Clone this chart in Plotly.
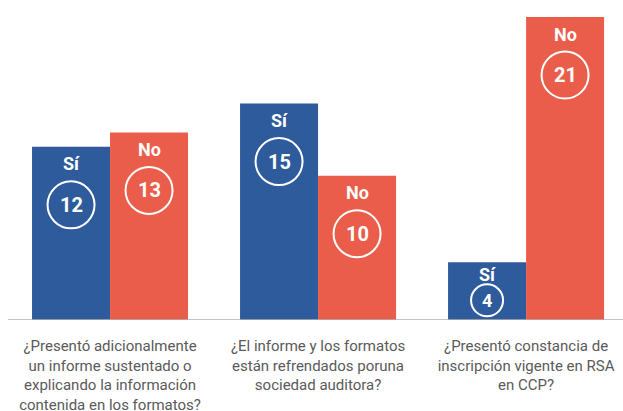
import plotly.graph_objects as go

categories = [
    "¿Presentó adicionalmente<br>un informe sustentado o<br>explicando la información<br>contenida en los formatos?",
    "¿El informe y los formatos<br>están refrendados poruna<br>sociedad auditora?",
    "¿Presentó constancia de<br>inscripción vigente en RSA<br>en CCP?",
]
si_values = [12, 15, 4]
no_values = [13, 10, 21]
series_names = ["Sí", "No"]

BLUE = "#2d5b9c"
RED = "#ea5d4b"
BAR_W = 0.375

fig = go.Figure()
x_idx = list(range(len(categories)))
for name, vals, color, off in [(series_names[0], si_values, BLUE, -BAR_W),
                               (series_names[1], no_values, RED, 0.0)]:
    fig.add_trace(go.Bar(
        x=x_idx, y=vals, width=BAR_W, offset=off,
        marker=dict(color=color, line=dict(width=0)),
        name=name, hoverinfo="skip", showlegend=False,
    ))

annotations = []
shapes = []
for name, vals, shift in [(series_names[0], si_values, -BAR_W / 2),
                          (series_names[1], no_values, BAR_W / 2)]:
    for i, v in enumerate(vals):
        cx = i + shift
        compact = v < 6
        name_off = 12 if compact else 17
        circ_off = 38 if compact else 58
        diam = 32 if compact else 47
        fsize = 18 if compact else 20
        annotations.append(dict(
            x=cx, y=v, xref="x", yref="y", text="<b>%s</b>" % name,
            showarrow=False, yshift=-name_off, yanchor="middle",
            font=dict(family="Roboto", size=18, color="white"),
        ))
        annotations.append(dict(
            x=cx, y=v, xref="x", yref="y", text="<b>%d</b>" % v,
            showarrow=False, yshift=-circ_off, yanchor="middle",
            font=dict(family="Roboto", size=fsize, color="white"),
        ))
        r = diam / 2
        shapes.append(dict(
            type="circle", xref="x", yref="y",
            xsizemode="pixel", ysizemode="pixel",
            xanchor=cx, yanchor=v,
            x0=-r, x1=r, y0=-circ_off - r, y1=-circ_off + r,
            line=dict(color="white", width=2),
        ))

shapes.append(dict(type="line", xref="paper", yref="y", x0=8 / 623, x1=1,
                   y0=0, y1=0, line=dict(color="#b0b0b0", width=1.5)))

fig.update_layout(
    width=623, height=411,
    margin=dict(l=0, r=0, t=17, b=91, autoexpand=False),
    paper_bgcolor="white", plot_bgcolor="white",
    barmode="overlay",
    annotations=annotations, shapes=shapes,
    xaxis=dict(
        tickmode="array", tickvals=x_idx, ticktext=categories,
        range=[-0.529, 2.466], showgrid=False, zeroline=False, showline=False,
        ticks="", ticklabelstandoff=15, automargin=False,
        tickfont=dict(family="Roboto", size=15, color="#5a5a5a"),
    ),
    yaxis=dict(range=[0, 21], visible=False, showgrid=False, zeroline=False,
               automargin=False),
)

fig.write_html(
    "out.html",
    config={"displayModeBar": False},
    post_script="document.body.style.margin='0';document.body.style.overflow='hidden';",
)
